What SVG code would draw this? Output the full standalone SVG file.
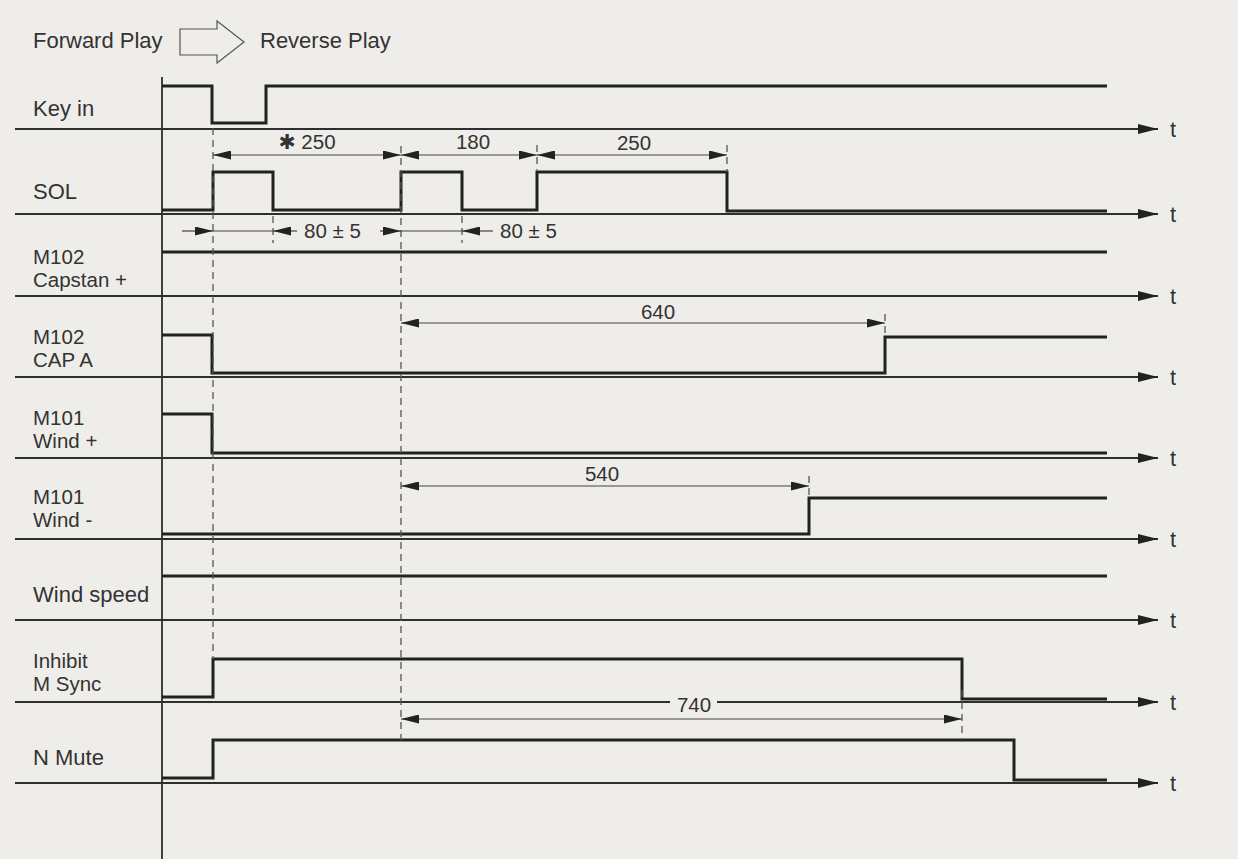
<svg xmlns="http://www.w3.org/2000/svg" width="1238" height="859" viewBox="0 0 1238 859">
<defs>
<style>
.lbl{font-family:"Liberation Sans",Arial,sans-serif;font-size:22px;fill:#333}
.lbl2{font-family:"Liberation Sans",Arial,sans-serif;font-size:20.5px;fill:#333}
.dim{font-family:"Liberation Sans","DejaVu Sans",Arial,sans-serif;font-size:20.5px;fill:#333}
.t{font-family:"Liberation Sans",Arial,sans-serif;font-size:22px;fill:#333}
.axis{stroke:#2e2e2e;stroke-width:1.8;fill:none}
.sig{stroke:#222;stroke-width:3;fill:none;stroke-linejoin:miter}
.dash{stroke:#555;stroke-width:1.3;stroke-dasharray:7 5;fill:none}
.dl{stroke:#444;stroke-width:1.2;fill:none}
.da{stroke:#444;stroke-width:1.2;fill:none;marker-end:url(#dimA)}
.dd{stroke:#444;stroke-width:1.2;fill:none;marker-start:url(#dimA);marker-end:url(#dimA)}
</style>
<marker id="axA" viewBox="0 0 20 10" refX="20" refY="5" markerWidth="20" markerHeight="10" markerUnits="userSpaceOnUse" orient="auto">
<path d="M0,0 L20,5 L0,10 z" fill="#222"/>
</marker>
<marker id="dimA" viewBox="0 0 18 9" refX="18" refY="4.5" markerWidth="18" markerHeight="9" markerUnits="userSpaceOnUse" orient="auto-start-reverse">
<path d="M0,0 L18,4.5 L0,9 z" fill="#222"/>
</marker>
</defs>
<rect width="1238" height="859" fill="#efedea"/>

<g id="header">
<text class="lbl" x="33" y="48">Forward Play</text>
<path d="M180,29 H217 V21 L244,42 L217,63 V55 H180 Z" fill="none" stroke="#555" stroke-width="1.2"/>
<text class="lbl" x="260" y="48">Reverse Play</text>
</g>

<path id="time-axis" class="axis" d="M162,77 V859"/>

<g id="row-keyin">
<text class="lbl" x="33" y="116">Key in</text>
<path class="axis" d="M15,129 H1158" marker-end="url(#axA)"/>
<text class="t" x="1170" y="137">t</text>
<path class="sig" d="M162,86 H212 V123 H266 V86 H1107"/>
</g>

<g id="row-sol">
<text class="lbl" x="33" y="199">SOL</text>
<path class="axis" d="M15,214 H1158" marker-end="url(#axA)"/>
<text class="t" x="1170" y="222">t</text>
<path class="sig" d="M162,210 H213 V172 H273 V210 H401 V172 H462 V210 H537 V172 H727 V211 H1107"/>
</g>

<g id="row-capstan">
<text class="lbl2" x="33" y="264">M102</text>
<text class="lbl2" x="33" y="287">Capstan +</text>
<path class="axis" d="M15,296 H1158" marker-end="url(#axA)"/>
<text class="t" x="1170" y="304">t</text>
<path class="sig" d="M162,252 H1107"/>
</g>

<g id="row-capa">
<text class="lbl2" x="33" y="344">M102</text>
<text class="lbl2" x="33" y="367">CAP A</text>
<path class="axis" d="M15,377 H1158" marker-end="url(#axA)"/>
<text class="t" x="1170" y="385">t</text>
<path class="sig" d="M162,335 H212 V373 H885 V337 H1107"/>
</g>

<g id="row-windplus">
<text class="lbl2" x="33" y="425">M101</text>
<text class="lbl2" x="33" y="448">Wind +</text>
<path class="axis" d="M15,458 H1158" marker-end="url(#axA)"/>
<text class="t" x="1170" y="466">t</text>
<path class="sig" d="M162,414 H212 V453 H1107"/>
</g>

<g id="row-windminus">
<text class="lbl2" x="33" y="504">M101</text>
<text class="lbl2" x="33" y="527">Wind -</text>
<path class="axis" d="M15,539 H1158" marker-end="url(#axA)"/>
<text class="t" x="1170" y="547">t</text>
<path class="sig" d="M162,534 H809 V498 H1107"/>
</g>

<g id="row-windspeed">
<text class="lbl" x="33" y="602">Wind speed</text>
<path class="axis" d="M15,620 H1158" marker-end="url(#axA)"/>
<text class="t" x="1170" y="628">t</text>
<path class="sig" d="M162,576 H1107"/>
</g>

<g id="row-inhibit">
<text class="lbl2" x="33" y="668">Inhibit</text>
<text class="lbl2" x="33" y="691">M Sync</text>
<path class="axis" d="M15,702 H670"/>
<path class="axis" d="M717,702 H1158" marker-end="url(#axA)"/>
<text class="t" x="1170" y="710">t</text>
<path class="sig" d="M162,697 H213 V659 H962 V699 H1107"/>
</g>

<g id="row-nmute">
<text class="lbl" x="33" y="765">N Mute</text>
<path class="axis" d="M15,783 H1158" marker-end="url(#axA)"/>
<text class="t" x="1170" y="791">t</text>
<path class="sig" d="M162,778 H213 V740 H1014 V780 H1107"/>
</g>

<g id="connectors">
<path class="dash" d="M213,128 V659"/>
<path class="dash" d="M401,146 V740"/>
<path class="dash" d="M537,145 V170"/>
<path class="dash" d="M727,145 V172"/>
<path class="dash" d="M273,216 V243"/>
<path class="dash" d="M462,216 V243"/>
<path class="dash" d="M885,314 V336"/>
<path class="dash" d="M809,476 V497"/>
<path class="dash" d="M962,690 V740"/>

<path class="dd" d="M213,155 H401"/>
<path class="dd" d="M401,155 H537"/>
<path class="dd" d="M537,155 H727"/>
<text class="dim" x="307" y="149" text-anchor="middle">✱ 250</text>
<text class="dim" x="473" y="149" text-anchor="middle">180</text>
<text class="dim" x="634" y="150" text-anchor="middle">250</text>

<path class="da" d="M182,231 H213"/>
<path class="dl" d="M213,231 H273"/>
<path class="da" d="M297,231 H273"/>
<text class="dim" x="304" y="238">80 ± 5</text>
<path class="da" d="M380,231 H401"/>
<path class="dl" d="M401,231 H462"/>
<path class="da" d="M493,231 H462"/>
<text class="dim" x="500" y="238">80 ± 5</text>

<path class="dd" d="M401,323 H885"/>
<text class="dim" x="658" y="319" text-anchor="middle">640</text>
<path class="dd" d="M401,486 H809"/>
<text class="dim" x="602" y="481" text-anchor="middle">540</text>
<path class="dd" d="M401,719 H962"/>
<text class="dim" x="694" y="712" text-anchor="middle">740</text>
</g>
</svg>
